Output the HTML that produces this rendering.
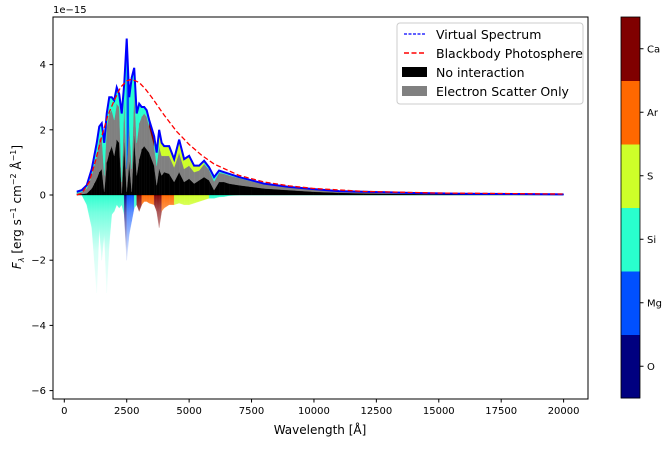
<!DOCTYPE html>
<html><head><meta charset="utf-8"><style>
body{margin:0;background:#fff}
svg text{font-family:"DejaVu Sans","Liberation Sans",sans-serif;fill:#000}
</style></head><body>
<svg id="chart" width="669" height="445" xmlns="http://www.w3.org/2000/svg">
<defs>
<linearGradient id="fadeW" x1="0" y1="0" x2="0" y2="1">
<stop offset="0" stop-color="#fff" stop-opacity="0.05"/><stop offset="0.15" stop-color="#fff" stop-opacity="0.35"/><stop offset="0.5" stop-color="#fff" stop-opacity="0.8"/><stop offset="1" stop-color="#fff" stop-opacity="0.97"/></linearGradient>
</defs>
<g id="marks"></g>
<rect x="54" y="196" width="533" height="110" fill="url(#fadeW)"/>
<rect x="53" y="17" width="535" height="382" fill="none" stroke="#000" stroke-width="1"/>
<g id="axes"></g>
<text x="53" y="13" font-size="10">1e−15</text>
<text x="320" y="434" font-size="12" text-anchor="middle">Wavelength [Å]</text>
<text transform="translate(21,207) rotate(-90)" font-size="12" text-anchor="middle"><tspan font-style="italic">F</tspan><tspan font-size="8" dy="3" font-style="italic">λ</tspan><tspan dy="-3"> [erg s</tspan><tspan font-size="8" dy="-5">−1</tspan><tspan dy="5"> cm</tspan><tspan font-size="8" dy="-5">−2</tspan><tspan dy="5"> Å</tspan><tspan font-size="8" dy="-5">−1</tspan><tspan dy="5">]</tspan></text>
<g>
<rect x="397" y="23" width="186" height="81" rx="3" fill="#fff" fill-opacity="0.85" stroke="#ccc"/>
<line x1="404" y1="34" x2="426" y2="34" stroke="#00f" stroke-dasharray="3,1.5" stroke-width="1.2"/>
<text x="436" y="39" font-size="12.5">Virtual Spectrum</text>
<line x1="404" y1="53" x2="426" y2="53" stroke="#f00" stroke-dasharray="5,2.5" stroke-width="1.5"/>
<text x="436" y="58" font-size="12.5">Blackbody Photosphere</text>
<rect x="402" y="67" width="25" height="10" fill="#000"/>
<text x="436" y="77" font-size="12.5">No interaction</text>
<rect x="402" y="86" width="25" height="10" fill="#808080"/>
<text x="436" y="96" font-size="12.5">Electron Scatter Only</text>
</g>
<g id="cbar"></g>
</svg>
<script>
const wave=[500,700,900,1100,1200,1300,1400,1500,1600,1700,1800,1900,2000,2100,2200,2300,2400,2500,2600,2700,2800,2900,3000,3100,3200,3300,3400,3600,3700,3800,3900,4000,4200,4400,4600,4800,5000,5200,5400,5600,5800,6000,6200,6400,6600,7000,7500,8000,9000,10000,11000,12000,14000,16000,18000,20000];
const virtual=[0.1,0.15,0.3,0.8,1.2,1.6,2.1,2.2,1.6,2.5,3.0,3.0,2.9,3.3,3.1,2.5,3.4,4.8,3.0,3.6,3.9,2.5,2.8,2.7,2.7,2.6,2.3,1.8,1.3,2.0,1.6,1.5,1.5,1.1,1.7,1.1,1.2,0.9,0.9,1.05,0.85,0.55,0.75,0.7,0.65,0.55,0.45,0.35,0.25,0.18,0.12,0.1,0.06,0.04,0.03,0.02];
const electron=[0.05,0.1,0.2,0.6,0.9,1.2,1.7,1.8,0.6,2.1,2.5,2.6,2.3,2.8,2.7,0.4,2.9,0.8,2.2,0.8,3.2,1.6,2.2,2.4,2.5,2.4,2.1,1.5,0.9,1.5,1.2,1.2,1.2,0.85,1.3,0.8,0.9,0.7,0.75,0.95,0.78,0.42,0.68,0.65,0.6,0.52,0.42,0.33,0.24,0.17,0.11,0.09,0.055,0.037,0.027,0.018];
const noInteraction=[0.01,0.03,0.05,0.2,0.35,0.5,0.7,0.8,0.1,1.0,1.3,1.5,1.2,1.7,1.6,0.05,1.6,0.1,1.0,0.1,1.8,0.6,1.1,1.4,1.5,1.4,1.3,0.9,0.3,0.8,0.6,0.7,0.65,0.4,0.7,0.4,0.5,0.35,0.45,0.55,0.45,0.15,0.4,0.4,0.35,0.3,0.25,0.2,0.15,0.1,0.07,0.05,0.03,0.02,0.015,0.01];
const emitElement=[2,2,2,2,2,2,2,2,2,2,2,2,2,2,2,2,2,1,2,2,2,2,2,2,2,2,5,2,2,3,3,3,3,3,3,3,3,3,3,2,2,2,2,2,2,2,2,2,2,2,2,2,2,2,2,2];
const absorb=[0,0,-0.3,-1.0,-2.0,-3.0,-1.0,-2.0,-1.2,-3.0,-1.5,-0.6,-0.5,-0.3,-0.4,-0.3,-0.6,-2.0,-1.2,-0.8,-0.4,-0.3,-0.5,-0.3,-0.2,-0.2,-0.25,-0.3,-0.5,-1.0,-0.5,-0.4,-0.3,-0.3,-0.25,-0.3,-0.3,-0.25,-0.2,-0.15,-0.1,-0.1,-0.06,-0.05,-0.02,0,0,0,0,0,0,0,0,0,0,0];
const absElement=[2,2,2,2,2,2,2,2,2,2,2,2,2,2,2,2,0,1,1,1,2,5,5,4,4,4,4,5,5,5,4,4,4,3,3,3,3,3,3,3,2,2,2,2,2,2,2,2,2,2,2,2,2,2,2,2];
const bbWave=[500,700,1000,1250,1500,1750,2000,2250,2500,2700,3000,3250,3500,4000,4500,5000,5500,6000,7000,8000,9000,10000,12000,15000,20000];
const bbFlux=[0,0.05,0.4,1.05,1.8,2.45,2.9,3.3,3.5,3.55,3.45,3.25,3.0,2.45,1.95,1.55,1.22,0.95,0.6,0.4,0.28,0.2,0.11,0.06,0.03];
const elements=["O","Mg","Si","S","Ar","Ca"];
const elemColors=["#000080","#0050ff","#29ffce","#ceff29","#ff6800","#800000"];
const xTicks=[0,2500,5000,7500,10000,12500,15000,17500,20000];
const yTicks=[-6,-4,-2,0,2,4];

const X=w=>64.3+(w/20000)*499.3;
const Y=v=>195-v*32.6;
const NS="http://www.w3.org/2000/svg";
function mk(tag,attrs,parent){const e=document.createElementNS(NS,tag);for(const k in attrs)e.setAttribute(k,attrs[k]);parent.appendChild(e);return e;}
const marks=document.getElementById('marks');
const absG=mk('g',{},marks);


function band(i,lo,hi,color,parent,name){
  const x0=X(wave[i]),x1=X(wave[i+1]);
  const p=mk('polygon',{points:`${x0},${Y(lo[i])} ${x1},${Y(lo[i+1])} ${x1},${Y(hi[i+1])} ${x0},${Y(hi[i])}`,fill:color,stroke:color,'stroke-width':0.3},parent);
  
  
}
const zeros=wave.map(()=>0);
for(let i=0;i<wave.length-1;i++){
  band(i,absorb,zeros,elemColors[absElement[i]],absG,'absorption-band');
  band(i,zeros,noInteraction,'#000',marks,'no-interaction-band');
  band(i,noInteraction,electron,'#808080',marks,'electron-scatter-band');
  band(i,electron,virtual,elemColors[emitElement[i]],marks,'emission-band');
}
const vl=mk('polyline',{points:wave.map((w,i)=>X(w)+','+Y(virtual[i])).join(' '),fill:'none',stroke:'#00f','stroke-width':2},marks);


const bl=mk('polyline',{points:bbWave.map((w,i)=>X(w)+','+Y(bbFlux[i])).join(' '),fill:'none',stroke:'#f00','stroke-width':1.3,'stroke-dasharray':'5,2.5'},marks);



const axes=document.getElementById('axes');
xTicks.forEach(t=>{
  const l=mk('line',{x1:X(t),x2:X(t),y1:399,y2:402.5,stroke:'#000'},axes);
  
  
  const tx=mk('text',{x:X(t),y:414,'font-size':10,'text-anchor':'middle'},axes);
  tx.textContent=t;
  
  
});
yTicks.forEach(t=>{
  const l=mk('line',{x1:49.5,x2:53,y1:Y(t),y2:Y(t),stroke:'#000'},axes);
  
  
  const tx=mk('text',{x:46,y:Y(t)+3.5,'font-size':10,'text-anchor':'end'},axes);
  tx.textContent=t<0?'−'+(-t):t;
  
  
});
const cb=document.getElementById('cbar');
const segH=381/elements.length;
elements.forEach((el,i)=>{
  const y=398-(i+1)*segH;
  const r=mk('rect',{x:621,y:y,width:19,height:segH+0.5,fill:elemColors[i]},cb);
  
  
  mk('line',{x1:640,x2:643.5,y1:y+segH/2,y2:y+segH/2,stroke:'#000'},cb);
  const t=mk('text',{x:647,y:y+segH/2+3.5,'font-size':10},cb);
  t.textContent=el;
  
  
});
const fr=mk('rect',{x:621,y:17,width:19,height:381,fill:'none',stroke:'#000','stroke-width':0.8},cb);


</script>
</body></html>
